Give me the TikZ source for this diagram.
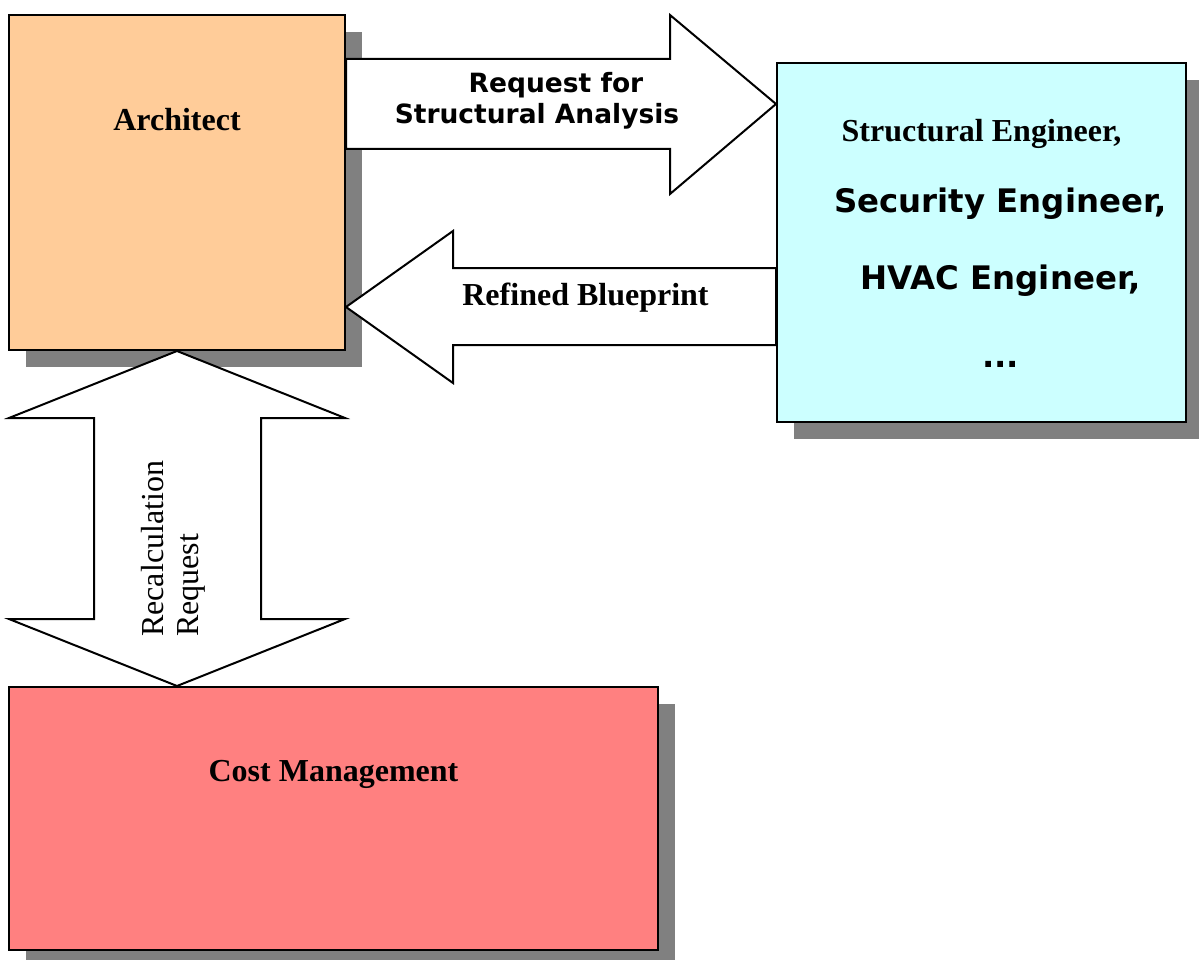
\documentclass[tikz,border=0pt]{standalone}
\usepackage{fontspec}
\setmainfont{Liberation Serif}
\newfontfamily\verd{DejaVu Sans}
\usetikzlibrary{shadows}
\definecolor{archfill}{HTML}{FFCC99}
\definecolor{engfill}{HTML}{CCFFFF}
\definecolor{costfill}{HTML}{FF8080}
\definecolor{shadowgray}{HTML}{808080}
\tikzset{
  box/.style={draw=black, line width=2pt, inner sep=0pt,
    drop shadow={shadow xshift=17pt, shadow yshift=-17pt, fill=shadowgray, opacity=1}},
  blockarrow/.style={draw=black, fill=white, line width=2pt, line join=miter},
  serifbold/.style={font=\fontsize{32}{37}\selectfont\bfseries, inner sep=0pt},
  sansbold/.style={font=\verd\fontsize{26.5}{30}\selectfont\bfseries, inner sep=0pt},
  sansbig/.style={font=\verd\fontsize{32.4}{36}\selectfont\bfseries, inner sep=0pt},
  serifrot/.style={font=\fontsize{32}{37}\selectfont, inner sep=0pt, rotate=90, anchor=base west}
}
\begin{document}
\begin{tikzpicture}[x=1pt, y=-1pt]
\useasboundingbox (0,0) rectangle (1199,960);
% boxes
\node[box, fill=archfill, minimum width=336pt, minimum height=335pt] (arch) at (177,182.5) {};
\node[box, fill=engfill, minimum width=409pt, minimum height=359pt] (eng) at (981.5,242.5) {};
\node[box, fill=costfill, minimum width=649pt, minimum height=263pt] (cost) at (333.5,818.5) {};
% block arrows
\draw[blockarrow] (arch.east |- 0,59) -- (670,59) -- (670,15) -- (eng.west |- 0,104)
  -- (670,194) -- (670,149) -- (arch.east |- 0,149) -- cycle;
\draw[blockarrow] (eng.west |- 0,268) -- (453,268) -- (453,231) -- (arch.east |- 0,307)
  -- (453,383) -- (453,345) -- (eng.west |- 0,345) -- cycle;
\draw[blockarrow] (arch.south) -- (345,418) -- (261,418) -- (261,619) -- (345,619)
  -- (arch.south |- cost.north) -- (9,619) -- (94,619) -- (94,418) -- (9,418) -- cycle;
% texts
\node[serifbold, anchor=base] (archtext) at (177,131) {Architect};
\node[sansbold, anchor=base] (req1) at (556,93) {Request for};
\node[sansbold, anchor=base] (req2) at (537,124) {Structural Analysis};
\node[serifbold, anchor=base] (reftext) at (585.5,305) {Refined Blueprint};
\node[serifbold, anchor=base] (e1) at (981.5,142) {Structural Engineer,};
\node[sansbig, anchor=base] (e2) at (1000.5,212) {Security Engineer,};
\node[sansbig, anchor=base] (e3) at (1000.5,289) {HVAC Engineer,};
\node[sansbig, anchor=base] (e4) at (1000.5,367) {...};
\node[serifbold, anchor=base] (costtext) at (333.5,781) {Cost Management};
\node[serifrot] (rc1) at (163,637) {Recalculation};
\node[serifrot] (rc2) at (198,637) {Request};
\end{tikzpicture}
\end{document}
